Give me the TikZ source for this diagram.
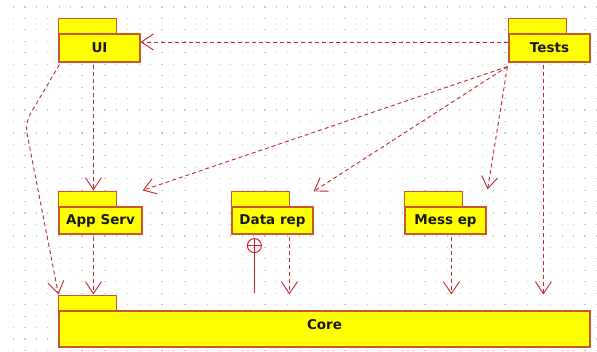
\documentclass[tikz,border=0pt]{standalone}
\usepackage{fontspec}
\setmainfont{DejaVu Sans}
\usetikzlibrary{arrows.meta,calc}
\definecolor{pkgborder}{RGB}{200,88,40}
\definecolor{pkgfill}{RGB}{255,255,0}
\definecolor{deparrow}{RGB}{192,40,45}
\definecolor{lolli}{RGB}{220,30,40}
\definecolor{griddot}{RGB}{200,200,200}
\tikzset{
  pkg/.style={draw=pkgborder, fill=pkgfill, line width=1.2pt, rectangle, inner sep=0pt,
    font=\fontsize{13.5}{15}\selectfont\bfseries, text=black!90},
  pkgtab/.style={draw=pkgborder, fill=pkgfill, line width=1.2pt},
  dep/.style={draw=deparrow, line width=0.9pt, dash pattern=on 4pt off 3pt,
    -{Straight Barb[length=12pt,width=16pt,line width=0.9pt]}},
  lollipop/.style={draw=lolli, line width=1pt},
}
\begin{document}
\begin{tikzpicture}[x=1pt,y=-1pt]
\useasboundingbox (0,0) rectangle (597,352);
\fill[white] (0,0) rectangle (597,352);
% dotted grid
\foreach \i in {0,...,51}{
  \foreach \j in {0,...,30}{
    \fill[griddot] ({13.5+11.43*\i-0.6},{7+11.45*\j-0.6}) rectangle ++(1.2,1.2);
  }
}
% packages (bodies)
\node[pkg, minimum width=81pt, minimum height=28pt] (ui) at (99.5,48) {UI};
\node[pkg, minimum width=81pt, minimum height=28pt] (tests) at (549.5,48) {Tests};
\node[pkg, minimum width=83pt, minimum height=27pt] (app) at (100.5,220.5) {App Serv};
\node[pkg, minimum width=81pt, minimum height=27pt] (data) at (272.5,220.5) {Data rep};
\node[pkg, minimum width=81pt, minimum height=27pt] (mess) at (445.5,220.5) {Mess ep};
\node[pkg, minimum width=531pt, minimum height=36pt] (core) at (324.5,329) {};
\node[font=\fontsize{13.5}{15}\selectfont\bfseries, text=black!90] (coretext) at (324.5,325) {Core};
% tabs
\foreach \p in {ui,tests,app,data,mess,core}{
  \draw[pkgtab] (\p.north west) rectangle ++(58,-15);
}
% dependencies
\draw[dep] ([yshift=6pt]tests.west) -- ([yshift=6pt]ui.east);
\draw[dep] ([xshift=35pt,yshift=-2pt]ui.south west) -- ([xshift=35pt,yshift=16pt]app.north west);
\coordinate (bend) at (25,123);
\draw[dep, rounded corners=10pt] ([xshift=1pt,yshift=-2pt]ui.south west) -- (bend) -- ([yshift=16pt]core.north west);
\draw[dep] ([xshift=35pt,yshift=-2pt]app.south west) -- ([xshift=35pt,yshift=16pt]core.north west);
\draw[dep] ([xshift=-1pt,yshift=-4pt]tests.south west) -- ([yshift=16pt]app.north east);
\draw[dep] ([xshift=-1pt,yshift=-4pt]tests.south west) -- ([yshift=15pt]data.north east);
\draw[dep] ([xshift=-1pt,yshift=-4pt]tests.south west) -- ([xshift=1pt,yshift=17pt]mess.north east);
\draw[dep] ([xshift=35pt,yshift=-2pt]tests.south west) -- ([xshift=485pt,yshift=16pt]core.north west);
\draw[dep] ([xshift=58pt,yshift=-2pt]data.south west) -- ([xshift=231pt,yshift=16pt]core.north west);
\draw[dep] ([xshift=47pt,yshift=-2pt]mess.south west) -- ([xshift=393pt,yshift=16pt]core.north west);
% lollipop (provided interface)
\coordinate (lc) at ([xshift=23pt,yshift=-11pt]data.south west);
\draw[lollipop] (lc) circle (7pt);
\draw[lollipop] ([xshift=-7pt]lc) -- ([xshift=7pt]lc);
\draw[lollipop] ([yshift=7pt]lc) -- ([yshift=-7pt]lc) -- ([xshift=196pt,yshift=17pt]core.north west);
\end{tikzpicture}
\end{document}
